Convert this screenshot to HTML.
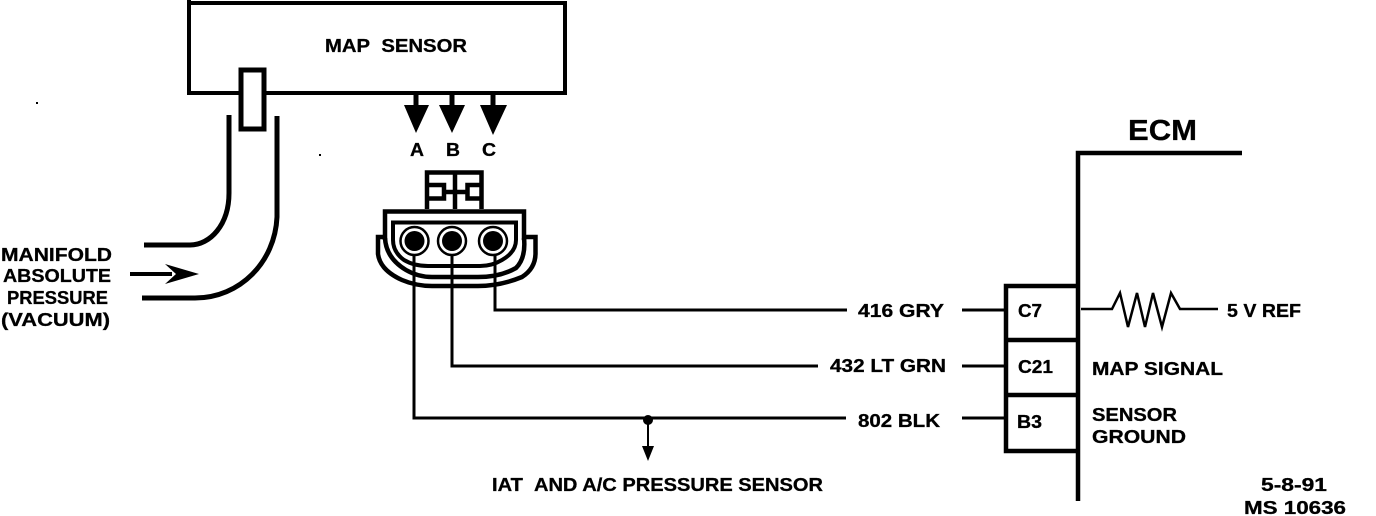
<!DOCTYPE html>
<html><head><meta charset="utf-8"><style>
html,body{margin:0;padding:0;background:#fff;width:1376px;height:516px;overflow:hidden}
svg{display:block}
text{font-family:"Liberation Sans",sans-serif;font-weight:bold;font-size:18px;fill:#000;stroke:#000;stroke-width:.3}
</style></head><body>
<svg width="1376" height="516" viewBox="0 0 1376 516" xmlns="http://www.w3.org/2000/svg">
<g fill="none" stroke="#000" stroke-width="4">
<!-- MAP sensor box -->
<path d="M189 0V93H565V3H187"/>
<rect x="241" y="70" width="23" height="59" fill="#fff" stroke-width="5"/>
<!-- Hose -->
<path d="M229 115V193C229 225 210 245 190 245H144" stroke-width="5"/>
<path d="M277 116V217C275 262 240 298 195 298H142" stroke-width="5"/>
<path d="M130 274H172" stroke-width="4"/>
<!-- Pin stems -->
<path d="M416 93V110M452 93V110M493 93V110" stroke-width="5"/>
<!-- Connector tab -->
<path d="M427 209V172.500H481.500V209M455 172.500V209" stroke-width="4.500"/>
<path d="M427 185H444V198.500H427M481.500 185H467.500V198.500H481.500M444 192H467.500" stroke-width="4.500"/>
<!-- Connector body -->
<path d="M385 240V211.500H524V240" stroke-width="4.500"/>
<path d="M393 240V222.500H516V240Q516 252 502 260Q492 266 480 266H428Q414 266 404 260Q393 252 393 240Z" stroke-width="4"/>
<path d="M385 238Q386 258 406 270Q418 277 432 277H478Q500 277 516 268Q526 258 524 238" stroke-width="4.500"/>
<path d="M385 237H378V254Q380 270 402 280Q416 286 432 286H478Q500 286 522 277Q536 268 535.500 252V237H526" stroke-width="4.500"/>
<circle cx="414.500" cy="241" r="14" stroke-width="2.500"/>
<circle cx="452" cy="241" r="14" stroke-width="2.500"/>
<circle cx="493" cy="241" r="14" stroke-width="2.500"/>
<!-- Wires -->
<path d="M495 255V310H847M962 310H1006" stroke-width="3"/>
<path d="M452 255V366H818M962 366H1006" stroke-width="3"/>
<path d="M414 255V418H846M962 418H1006" stroke-width="3"/>
<path d="M648 420V450" stroke-width="2"/>
<!-- ECM -->
<path d="M1078 501V153H1242" stroke-width="4.500"/>
<path d="M1078 286H1006V451H1078M1006 340H1078M1006 395H1078" stroke-width="4.500"/>
<path d="M1081 309H1112L1120 293L1128 327L1137 293L1145 327L1153 293L1162 327L1171 293L1180 309H1218" stroke-width="2.500"/>
</g>
<g fill="#000">
<path d="M404 105H429L416 133ZM439 105H465L452 133ZM480 105H507L493 135Z"/>
<path d="M165 264L199 274L165 284L176 274Z"/>
<circle cx="414.500" cy="241" r="10"/><circle cx="452" cy="241" r="10"/><circle cx="493" cy="241" r="10"/>
<circle cx="648" cy="420" r="5"/>
<path d="M642 446H654L648 461Z"/>
</g>
<text x="325" y="52" textLength="142" lengthAdjust="spacingAndGlyphs">MAP&#160;&#160;SENSOR</text>
<text x="410" y="156" textLength="14" lengthAdjust="spacingAndGlyphs">A</text>
<text x="446" y="156" textLength="14" lengthAdjust="spacingAndGlyphs">B</text>
<text x="482" y="156" textLength="14" lengthAdjust="spacingAndGlyphs">C</text>
<text x="1" y="261" textLength="111" lengthAdjust="spacingAndGlyphs">MANIFOLD</text>
<text x="3" y="282" textLength="108" lengthAdjust="spacingAndGlyphs">ABSOLUTE</text>
<text x="7" y="304" textLength="101" lengthAdjust="spacingAndGlyphs">PRESSURE</text>
<text x="1" y="326" textLength="109" lengthAdjust="spacingAndGlyphs">(VACUUM)</text>
<text x="858" y="317" textLength="86" lengthAdjust="spacingAndGlyphs">416 GRY</text>
<text x="830" y="372" textLength="116" lengthAdjust="spacingAndGlyphs">432 LT GRN</text>
<text x="858" y="427" textLength="82" lengthAdjust="spacingAndGlyphs">802 BLK</text>
<text x="492" y="491" textLength="331" lengthAdjust="spacingAndGlyphs">IAT&#160;&#160;AND A/C PRESSURE SENSOR</text>
<text x="1128" y="140" style="font-size:29px" textLength="69" lengthAdjust="spacingAndGlyphs">ECM</text>
<text x="1018" y="317" textLength="24" lengthAdjust="spacingAndGlyphs">C7</text>
<text x="1018" y="373" textLength="35" lengthAdjust="spacingAndGlyphs">C21</text>
<text x="1017" y="428" textLength="25" lengthAdjust="spacingAndGlyphs">B3</text>
<text x="1227" y="317" textLength="74" lengthAdjust="spacingAndGlyphs">5 V REF</text>
<text x="1092" y="375" textLength="131" lengthAdjust="spacingAndGlyphs">MAP SIGNAL</text>
<text x="1092" y="421" textLength="85" lengthAdjust="spacingAndGlyphs">SENSOR</text>
<text x="1092" y="443" textLength="94" lengthAdjust="spacingAndGlyphs">GROUND</text>
<text x="1261" y="491" textLength="66" lengthAdjust="spacingAndGlyphs">5-8-91</text>
<text x="1244" y="514" textLength="102" lengthAdjust="spacingAndGlyphs">MS 10636</text>
<rect x="36" y="102" width="2" height="2"/>
<rect x="319" y="154" width="2" height="2"/>
</svg>
</body></html>
